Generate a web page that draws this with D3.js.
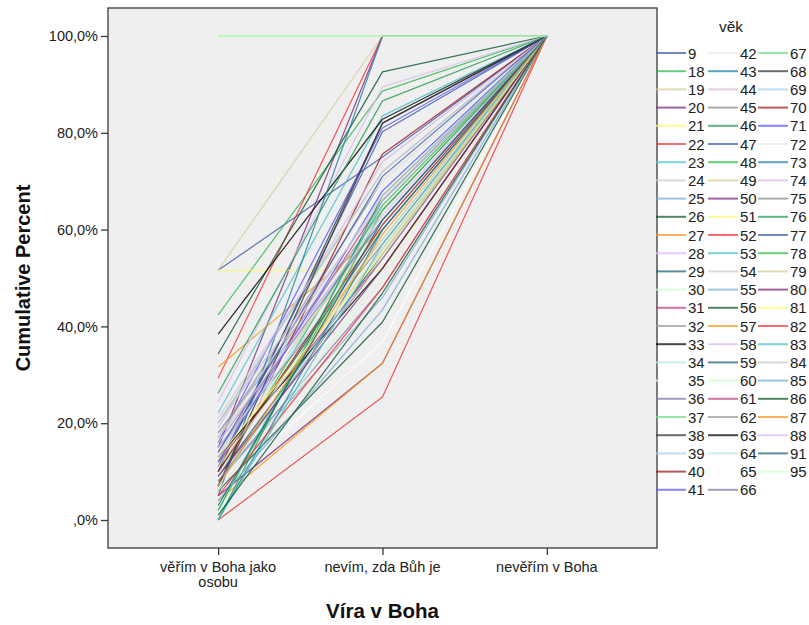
<!DOCTYPE html>
<html><head><meta charset="utf-8">
<script src="https://cdn.jsdelivr.net/npm/d3@7/dist/d3.min.js"></script>
<style>body{margin:0;background:#fff;}svg{display:block;font-family:"Liberation Sans",Arial,sans-serif;}</style>
</head><body><svg id="chart" width="809" height="625"></svg>
<script>
const categories = ["věřím v Boha jako osobu", "nevím, zda Bůh je", "nevěřím v Boha"];
const ages = [9,18,19,20,21,22,23,24,25,26,27,28,29,30,31,32,33,34,35,36,37,38,39,40,41,
  42,43,44,45,46,47,48,49,50,51,52,53,54,55,56,57,58,59,60,61,62,63,64,65,66,
  67,68,69,70,71,72,73,74,75,76,77,78,79,80,81,82,83,84,85,86,87,88,91,95];
// cumulative percent at category 1 and 2 (category 3 is 100 %)
const cumBeliever = [51.6,42.4,51.6,15,51.6,29.3,22.1,12,18,34.3,31.6,24.4,9,3,14,17,38.4,11,6,8,20,10,13,7,16,
  4,5,19,15,26.2,11,9,17,5,12,0,2,14,8,6,4,21,10,100,12,18,13,7,9,16,
  100,7,15,10,12,6,0,20,8,0,14,2,11,9,13,5,0,17,4,1,7,16,3,100];
const cumUnsure = [75,88.6,100,100,51.6,100,83.5,58,62,92.6,60,89.5,55,52,66,70,82.8,64,36.8,48,72,82,68,75.6,81,
  44,100,74,57,86.6,80.2,65,60,32.4,58,25.4,66,62,46,40.9,32.4,72,60,100,54,64,52,56,70,62,
  100,82,58,61,68,50,60,66,54,67,71,64,56,52,55,48,57,67,43.4,46.9,59,63,62,100];
const cumNonBeliever = ages.map(() => 100);
const palette = ["#3E58AC","#2EB848","#D3CE97","#7C287D","#FBF873","#EF3338","#48C2C5","#CCCCCC","#7AAAD5","#0A562C",
  "#F8981D","#DDBAF1","#1A5F76","#CCFFCC","#BB3F7F","#999999","#000000","#B6E7E8","#FFFFFF","#797AA7",
  "#70DC84","#333333","#ACD0EE","#A21619","#5858FF","#E8E8E8","#1F7FA6","#D2B8E0","#8C8C8C","#1E9A50"];

const svg = d3.select("#chart");
const pL = 108, pR = 657, pT = 8, pB = 548;
const x = d3.scalePoint().domain(categories).range([pL, pR]).padding(0.67);
const y = d3.scaleLinear().domain([0, 100]).range([520, 36]);

svg.append("rect").attr("x", pL).attr("y", pT).attr("width", pR - pL).attr("height", pB - pT)
  .attr("fill", "#efefef");

const series = ages.map((a, i) => ({age: a, color: palette[i % palette.length],
  values: [cumBeliever[i], cumUnsure[i], cumNonBeliever[i]]}));

const line = d3.line().x((d, j) => x(categories[j])).y(d => y(d));
svg.append("g").selectAll("path").data(series).join("path")
  .attr("d", d => line(d.values)).attr("fill", "none")
  .attr("stroke", d => d.color).attr("stroke-width", 1.25).attr("stroke-opacity", 0.8)
  .attr("stroke-linejoin", "round");

svg.append("rect").attr("x", pL).attr("y", pT).attr("width", pR - pL).attr("height", pB - pT)
  .attr("fill", "none").attr("stroke", "#3a3a3a").attr("stroke-width", 1.3);

// y axis
const yAxis = d3.axisLeft(y).tickValues([0, 20, 40, 60, 80, 100]).tickSize(7).tickPadding(3)
  .tickFormat(v => (v === 0 ? "" : String(v)) + ",0%");
const gy = svg.append("g").attr("transform", `translate(${pL},0)`).call(yAxis);
gy.select(".domain").remove();
gy.selectAll("line").attr("stroke", "#3a3a3a").attr("stroke-width", 1.3);
gy.selectAll("text").attr("font-size", 14.5).attr("fill", "#222").attr("font-family", "Liberation Sans, Arial, sans-serif");

// x axis
const xAxis = d3.axisBottom(x).tickSize(7).tickPadding(5).tickFormat("");
const gx = svg.append("g").attr("transform", `translate(0,${pB})`).call(xAxis);
gx.select(".domain").remove();
gx.selectAll("line").attr("stroke", "#3a3a3a").attr("stroke-width", 1.3);
const xLabelLines = [["věřím v Boha jako", "osobu"], ["nevím, zda Bůh je"], ["nevěřím v Boha"]];
categories.forEach((c, i) => {
  const t = svg.append("text").attr("x", x(c)).attr("y", 572).attr("text-anchor", "middle")
    .attr("font-size", 14.5).attr("fill", "#222");
  xLabelLines[i].forEach((l, k) => t.append("tspan").attr("x", x(c)).attr("dy", k ? 15 : 0).text(l));
});

svg.append("text").attr("x", (pL + pR) / 2).attr("y", 618).attr("text-anchor", "middle")
  .attr("font-size", 20.5).attr("font-weight", "bold").attr("fill", "#111").text("Víra v Boha");
svg.append("text").attr("transform", "translate(30,278) rotate(-90)").attr("text-anchor", "middle")
  .attr("font-size", 20).attr("font-weight", "bold").attr("fill", "#111").text("Cumulative Percent");

// legend
svg.append("text").attr("x", 731).attr("y", 32).attr("text-anchor", "middle").attr("font-size", 15.5)
  .attr("fill", "#222").text("věk");
const colX = [656, 708, 758];
const rowsPerCol = 25;
const lg = svg.append("g").selectAll("g").data(series).join("g")
  .attr("transform", (d, i) => `translate(${colX[Math.floor(i / rowsPerCol)]},${53 + (i % rowsPerCol) * 18.2})`);
lg.append("line").attr("x1", 0).attr("x2", 30).attr("stroke", d => d.color).attr("stroke-width", 2)
  .attr("stroke-opacity", 0.72);
lg.append("text").attr("x", 32).attr("y", 5.5).attr("font-size", 15).attr("fill", "#222").text(d => d.age);
</script></body></html>
